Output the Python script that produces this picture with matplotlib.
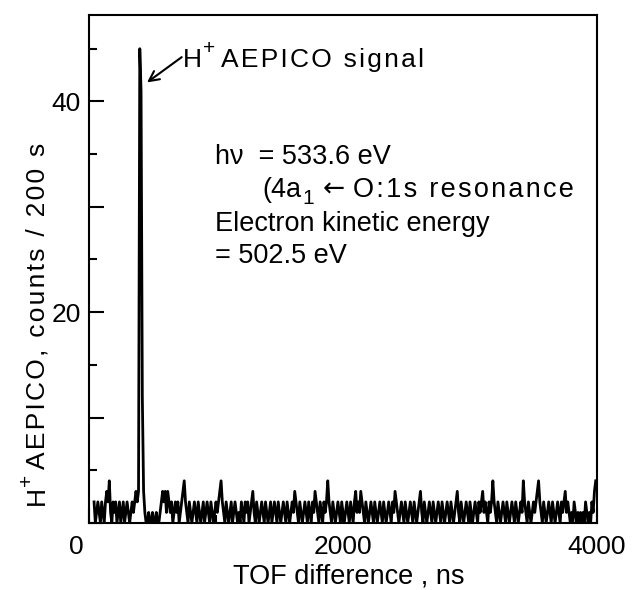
import numpy as np
import matplotlib
matplotlib.use("Agg")
import matplotlib.pyplot as plt
from matplotlib.ticker import MultipleLocator, FuncFormatter
from matplotlib.transforms import ScaledTranslation

plt.rcParams['font.family'] = ['Liberation Sans', 'DejaVu Sans']

HAIR = '\u200a'


def track(s):
    # loose letter spacing, as in the original lettering
    return HAIR.join(s)


# TOF bins (ns), 10 ns wide, starting at 40 ns
bin_start = 40
bin_width = 10

# H+ AEPICO counts per bin (one row = 200 ns)
counts = [
    2, 0, 1, 2, 1, 0, 2, 1, 0, 2, 3, 2, 4, 1, 0, 2, 1, 2, 0, 1,
    2, 0, 1, 2, 0, 1, 2, 1, 0, 1, 2, 1, 2, 3, 2, 3, 45, 41, 12, 3,
    1, 0, 0, 1, 0, 0, 1, 0, 0, 1, 0, 0, 1, 2, 3, 2, 3, 1, 3, 2,
    1, 2, 0, 1, 2, 1, 2, 0, 1, 2, 3, 4, 2, 1, 0, 2, 1, 0, 1, 2,
    1, 0, 2, 1, 0, 1, 2, 0, 1, 2, 1, 0, 2, 1, 0, 1, 2, 1, 2, 3,
    4, 2, 1, 0, 2, 1, 0, 1, 2, 0, 1, 2, 1, 0, 1, 0, 2, 1, 0, 2,
    1, 2, 0, 1, 2, 3, 1, 0, 2, 1, 0, 1, 2, 1, 0, 2, 1, 0, 1, 2,
    0, 1, 2, 1, 0, 2, 1, 0, 1, 2, 1, 0, 2, 1, 0, 1, 2, 1, 3, 2,
    1, 0, 2, 1, 0, 1, 2, 1, 0, 2, 1, 0, 2, 1, 3, 2, 1, 0, 2, 1,
    0, 2, 1, 2, 4, 2, 1, 0, 2, 1, 0, 1, 2, 1, 0, 2, 1, 0, 1, 2,
    1, 0, 2, 1, 0, 2, 3, 1, 2, 1, 3, 2, 1, 0, 2, 1, 0, 1, 2, 1,
    0, 2, 1, 0, 1, 2, 1, 0, 2, 1, 0, 1, 2, 1, 0, 2, 1, 3, 2, 1,
    0, 1, 2, 1, 0, 2, 1, 0, 1, 2, 1, 0, 2, 1, 0, 1, 2, 3, 1, 0,
    2, 1, 0, 1, 2, 1, 0, 2, 1, 0, 1, 2, 1, 0, 2, 1, 0, 1, 2, 1,
    0, 2, 1, 0, 1, 2, 3, 1, 0, 2, 1, 0, 1, 2, 1, 0, 2, 1, 0, 1,
    2, 1, 0, 2, 1, 2, 3, 1, 2, 1, 0, 2, 1, 2, 4, 2, 1, 0, 2, 1,
    0, 1, 2, 1, 0, 2, 1, 0, 1, 2, 1, 0, 2, 1, 0, 1, 2, 1, 4, 2,
    1, 0, 2, 1, 0, 1, 2, 1, 2, 3, 4, 2, 1, 0, 2, 1, 0, 1, 2, 1,
    0, 2, 1, 0, 1, 2, 1, 0, 2, 1, 2, 3, 1, 2, 1, 0, 1, 0, 2, 1,
    0, 1, 0, 1, 0, 1, 0, 2, 1, 0, 1, 0, 2, 1, 3, 4,
]
tof = bin_start + bin_width * np.arange(len(counts))

fig = plt.figure(figsize=(6.32, 5.90), dpi=100)
ax = fig.add_axes([0.1408, 0.1136, 0.8038, 0.861])

ax.plot(tof, counts, color='black', lw=2.0)

ax.set_xlim(0, 4000)
ax.set_ylim(0, 48.2)

ax.set_xticks([0, 2000, 4000])
ax.xaxis.set_minor_locator(MultipleLocator(1000))
ax.yaxis.set_major_locator(MultipleLocator(10))
ax.yaxis.set_minor_locator(MultipleLocator(5))
ax.yaxis.set_major_formatter(FuncFormatter(lambda v, p: '%d' % v if v in (20, 40) else ''))
ax.tick_params(which='both', direction='in', top=False, right=False, width=1.5)
ax.tick_params(which='major', length=11, labelsize=19, pad=6)
ax.tick_params(axis='x', which='major', pad=9)
ax.tick_params(which='minor', length=6)

# the corner "0" sits a little left of the origin
zero_lab = ax.xaxis.get_major_ticks()[0].label1
zero_lab.set_transform(zero_lab.get_transform() + ScaledTranslation(-13 / 100, 0, fig.dpi_scale_trans))

for sp in ax.spines.values():
    sp.set_linewidth(1.5)

ax.set_xlabel('TOF difference , ns', fontsize=19.5)
ax.xaxis.set_label_coords(0.512, -0.08)

# y label: "H", superscript "+", then the rest, rotated
yl_x = -0.088
yh = ax.text(yl_x, 0.035, 'H', fontsize=19, rotation=90, rotation_mode='anchor',
             ha='left', va='baseline', transform=ax.transAxes)
yp = ax.annotate('+', xy=(yl_x, 1), xycoords=('axes fraction', yh), xytext=(-9, 0),
                 textcoords='offset points', fontsize=15, rotation=90,
                 rotation_mode='anchor', ha='left', va='baseline')
ax.annotate(track('AEPICO, counts / 200 s'), xy=(yl_x, 1), xycoords=('axes fraction', yp),
            xytext=(0, 4), textcoords='offset points', fontsize=19, rotation=90,
            rotation_mode='anchor', ha='left', va='baseline')

# peak label with arrow
sig_y = 43.3
th = ax.text(740, sig_y, 'H', fontsize=19, va='baseline')
tp = ax.annotate('+', xy=(1, sig_y), xycoords=(th, 'data'), xytext=(1, 9),
                 textcoords='offset points', fontsize=15, va='baseline')
ax.annotate(track('AEPICO signal'), xy=(1, sig_y), xycoords=(tp, 'data'), xytext=(4, 0),
            textcoords='offset points', fontsize=19, va='baseline')
ax.annotate('', xy=(457, 41.8), xytext=(730, 44.2),
            arrowprops=dict(arrowstyle='->', color='black', lw=1.5,
                            shrinkA=0, shrinkB=0, mutation_scale=18))

ax.text(992, 34.05, 'hν  = 533.6 eV', fontsize=19.5, va='baseline')
t1 = ax.text(1362, 30.95, '(4a', fontsize=19.5, va='baseline')
t1s = ax.annotate('1', xy=(1, 30.95), xycoords=(t1, 'data'), xytext=(1, -5),
                  textcoords='offset points', fontsize=15, va='baseline')
t2 = ax.annotate('←', xy=(1, 30.95), xycoords=(t1s, 'data'), xytext=(6, 0),
                 textcoords='offset points', fontsize=19, va='baseline',
                 family='DejaVu Sans')
ax.annotate(track('O:1s resonance'), xy=(1, 30.95), xycoords=(t2, 'data'), xytext=(6, 0),
            textcoords='offset points', fontsize=19.5, va='baseline')
ax.text(992, 27.75, 'Electron kinetic energy', fontsize=19.5, va='baseline')
ax.text(992, 24.65, '= 502.5 eV', fontsize=19.5, va='baseline')

fig.savefig('out.png', dpi=100)
